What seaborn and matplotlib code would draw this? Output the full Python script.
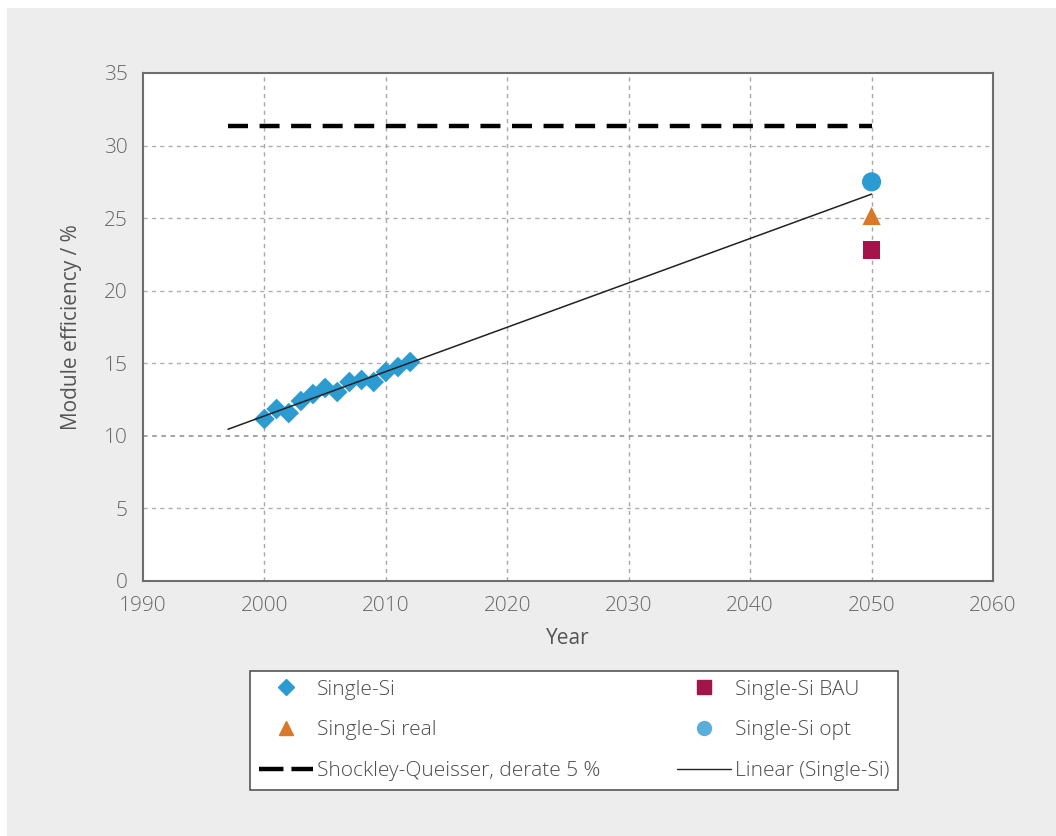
import numpy as np
import pandas as pd
import matplotlib
matplotlib.use("Agg")
import matplotlib.pyplot as plt
import seaborn as sns
from matplotlib.patches import Rectangle
from matplotlib.lines import Line2D

# ---- data ----
years = [2000, 2001, 2002, 2003, 2004, 2005, 2006, 2007, 2008, 2009, 2010, 2011, 2012]
single_si = [11.16, 11.85, 11.57, 12.40, 12.88, 13.30, 13.02, 13.71, 13.85, 13.71, 14.40, 14.74, 15.09]
target_year = [2050]
bau = [22.8]
real = [25.15]
opt = [27.5]
sq_years = [1997, 2050]
sq_value = [31.35, 31.35]
trend_range = [1997, 2050]
x_ticks = [1990, 2000, 2010, 2020, 2030, 2040, 2050, 2060]
y_ticks = [0, 5, 10, 15, 20, 25, 30, 35]

sns.set_theme(style="white")
plt.rcParams['font.family'] = ['Open Sans', 'DejaVu Sans']
plt.rcParams['font.weight'] = 'light'

FS = 15

fig = plt.figure(figsize=(10.56, 8.36), dpi=100)
fig.patch.set_facecolor("white")
fig.patches.append(Rectangle((7/1056, 0), 1 - 7/1056, 1 - 8/836, transform=fig.transFigure,
                             facecolor="#ededed", edgecolor="none", zorder=-10))

ax = fig.add_axes([143/1056, 1 - 581/836, (993 - 143)/1056, (581 - 73)/836])
ax.set_facecolor("white")

# grid
for xt in x_ticks[1:-1]:
    ax.axvline(xt, color="#a8a8a8", lw=1.0, ls=(0, (3, 3)), zorder=0)
for yt in y_ticks[1:-1]:
    c = "#8a8a8a" if yt == 10 else "#b0b0b0"
    ax.axhline(yt, color=c, lw=1.1 if yt == 10 else 1.0, ls=(0, (3, 3)), zorder=0)

# SQ line
sq_df = pd.DataFrame({"x": sq_years, "y": sq_value})
sns.lineplot(data=sq_df, x="x", y="y", ax=ax, color="black", lw=3.2,
             linestyle=(0, (4.5, 2.6)), zorder=3)

# linear trend
coef = np.polyfit(years, single_si, 1)
tx = np.array(trend_range, dtype=float)
tr_df = pd.DataFrame({"x": tx, "y": np.polyval(coef, tx)})
sns.lineplot(data=tr_df, x="x", y="y", ax=ax, color="#222222", lw=1.1, zorder=4)

# markers
sns.scatterplot(x=years, y=single_si, ax=ax, marker="D", s=110, color="#2b9bd1",
                edgecolor="none", zorder=3)
sns.scatterplot(x=target_year, y=bau, ax=ax, marker="s", s=160, color="#a3144a",
                edgecolor="none", zorder=5)
sns.scatterplot(x=target_year, y=real, ax=ax, marker="^", s=170, color="#d9782a",
                edgecolor="none", zorder=5)
sns.scatterplot(x=target_year, y=opt, ax=ax, marker="o", s=190, color="#2b9bd1",
                edgecolor="none", zorder=5)

ax.set_xlim(1990, 2060)
ax.set_ylim(0, 35)
ax.set_xticks(x_ticks)
ax.set_yticks(y_ticks)
ax.tick_params(axis="x", labelsize=FS, colors="#666666", length=0, pad=11)
ax.tick_params(axis="y", labelsize=FS, colors="#666666", length=0, pad=11)
ax.set_xlabel("Year", fontsize=FS, color="#555555")
ax.set_ylabel("Module efficiency / %", fontsize=FS, color="#555555")
ax.xaxis.set_label_coords(0.5, -(638 - 581) / 508, transform=ax.transAxes)
ax.yaxis.set_label_coords(-(143 - 72) / 850, 0.5, transform=ax.transAxes)
ax.xaxis.label.set_va("center")
ax.yaxis.label.set_va("center")
for s in ax.spines.values():
    s.set_color("#6e6e6e")
    s.set_linewidth(1.5)
    s.set_visible(True)

handles = [
    Line2D([], [], marker="D", color="#2b9bd1", ls="none", markersize=8),
    Line2D([], [], marker="^", color="#d9782a", ls="none", markersize=10),
    Line2D([], [], color="black", lw=3.2, ls=(0, (5.5, 1.8))),
    Line2D([], [], marker="s", color="#a3144a", ls="none", markersize=10),
    Line2D([], [], marker="o", color="#5aaedc", ls="none", markersize=10),
    Line2D([], [], color="#222222", lw=1.0),
]
labels = ["Single-Si", "Single-Si real", "Shockley-Queisser, derate 5 %",
          "Single-Si BAU", "Single-Si opt", "Linear (Single-Si)"]
leg = fig.legend(handles, labels, ncol=2, loc="lower left",
                 bbox_to_anchor=(250/1056, 1 - 790/836, (898 - 250)/1056, (790 - 667)/836),
                 mode="expand", frameon=True, fancybox=False, fontsize=FS,
                 labelcolor="#4a4a4a", handlelength=2.6, handletextpad=0.2,
                 labelspacing=1.0, borderpad=0.42, borderaxespad=0, columnspacing=2,
                 framealpha=1)
leg.get_frame().set_edgecolor("#555555")
leg.get_frame().set_linewidth(1.2)
leg.get_frame().set_facecolor("white")

fig.savefig("out.png", dpi=100)
